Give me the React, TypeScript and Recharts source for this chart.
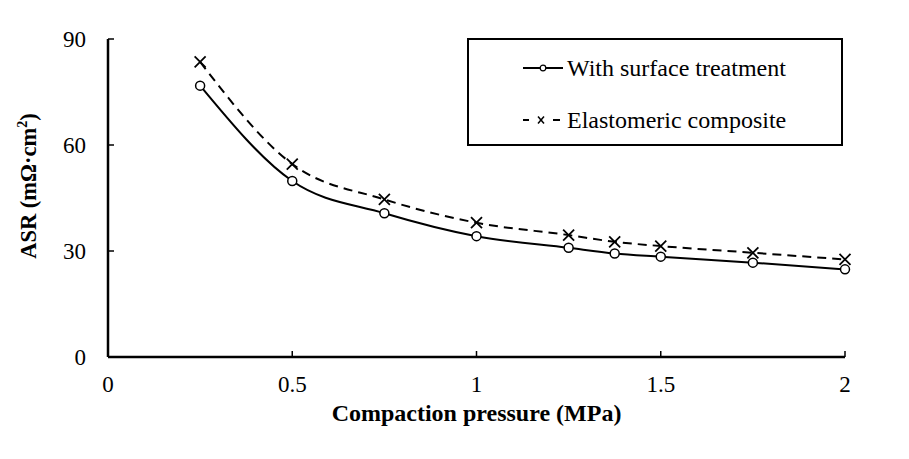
import { Label, Line, LineChart, XAxis, YAxis } from "recharts";

const pressure = [0.25, 0.5, 0.75, 1, 1.25, 1.375, 1.5, 1.75, 2];
const surfaceTreatment = [76.8, 49.8, 40.7, 34.2, 30.9, 29.3, 28.4, 26.7, 24.8];
const elastomeric = [83.5, 54.6, 44.6, 38.0, 34.5, 32.6, 31.4, 29.5, 27.6];
const xTicks = [0, 0.5, 1, 1.5, 2];
const yTicks = [0, 30, 60, 90];

const rows = pressure.map((p, i) => ({ p, surface: surfaceTreatment[i], elasto: elastomeric[i] }));

const FONT = "'Liberation Serif', 'Times New Roman', serif";
const TICK = { fontSize: 23, fill: "#000", fontFamily: FONT };

function CircleDot(props: any) {
  const { cx, cy } = props;
  if (cx == null || cy == null) return null;
  return <circle cx={cx} cy={cy} r={4.5} fill="#fff" stroke="#000" strokeWidth={1.5} />;
}

function CrossDot(props: any) {
  const { cx, cy } = props;
  if (cx == null || cy == null) return null;
  const s = 5.5;
  return (
    <g stroke="#000" strokeWidth={1.8}>
      <line x1={cx - s} y1={cy - s} x2={cx + s} y2={cy + s} />
      <line x1={cx - s} y1={cy + s} x2={cx + s} y2={cy - s} />
    </g>
  );
}

function LegendBox() {
  const item = (sample: React.ReactNode, text: string) => (
    <div style={{ display: "flex", alignItems: "center", height: 52 }}>
      <svg width={40} height={20} style={{ marginRight: 4 }}>
        {sample}
      </svg>
      <span style={{ fontFamily: FONT, fontSize: 24, color: "#000", whiteSpace: "nowrap" }}>{text}</span>
    </div>
  );
  return (
    <div
      style={{
        position: "absolute",
        left: 467,
        top: 38,
        border: "2px solid #000",
        width: 376,
        height: 108,
        boxSizing: "border-box",
        paddingLeft: 54,
        paddingTop: 2,
        background: "#fff",
      }}
    >
      {item(
        <g>
          <line x1={0} y1={10} x2={40} y2={10} stroke="#000" strokeWidth={2} />
          <circle cx={20} cy={10} r={2.8} fill="#fff" stroke="#000" strokeWidth={1.2} />
        </g>,
        "With surface treatment"
      )}
      {item(
        <g stroke="#000">
          <line x1={0} y1={10} x2={6} y2={10} strokeWidth={2} />
          <line x1={30} y1={10} x2={37} y2={10} strokeWidth={2} />
          <line x1={15} y1={6.5} x2={21} y2={13.5} strokeWidth={1.5} />
          <line x1={15} y1={13.5} x2={21} y2={6.5} strokeWidth={1.5} />
        </g>,
        "Elastomeric composite"
      )}
    </div>
  );
}

function YTitle() {
  const x = 36;
  const y = 186;
  return (
    <text
      x={x}
      y={y}
      transform={`rotate(-90, ${x}, ${y})`}
      textAnchor="middle"
      fontFamily={FONT}
      fontWeight="bold"
      fontSize={22.5}
      fill="#000"
    >
      ASR (mΩ·cm
      <tspan fontSize={14} dy={-9}>2</tspan>
      <tspan dy={9}>)</tspan>
    </text>
  );
}

export default function App() {
  return (
    <div style={{ position: "absolute", left: 0, top: 0, width: 909, height: 459, background: "#fff" }}>
      <LineChart width={909} height={459} data={rows} margin={{ top: 39, right: 64, bottom: 24, left: 0 }}>
        <XAxis
          dataKey="p"
          type="number"
          domain={[0, 2]}
          ticks={xTicks}
          tick={TICK}
          tickSize={-6}
          tickMargin={25}
          height={78}
          axisLine={{ stroke: "#000", strokeWidth: 2.5 }}
          tickLine={{ stroke: "#000", strokeWidth: 1.5 }}
        >
          <Label
            value="Compaction pressure (MPa)"
            position="insideBottom"
            offset={14}
            style={{ fontFamily: FONT, fontWeight: "bold", fontSize: 24, fill: "#000" }}
          />
        </XAxis>
        <YAxis
          type="number"
          domain={[0, 90]}
          ticks={yTicks}
          tick={TICK}
          tickSize={-6}
          tickMargin={28}
          width={108}
          axisLine={{ stroke: "#000", strokeWidth: 2.5 }}
          tickLine={{ stroke: "#000", strokeWidth: 1.5 }}
          label={{ content: <YTitle /> }}
        />
        <Line
          type="monotone"
          dataKey="surface"
          stroke="#000"
          strokeWidth={2}
          dot={<CircleDot />}
          isAnimationActive={false}
        />
        <Line
          type="monotone"
          dataKey="elasto"
          stroke="#000"
          strokeWidth={2}
          strokeDasharray="9 6"
          dot={<CrossDot />}
          isAnimationActive={false}
        />
      </LineChart>
      <LegendBox />
    </div>
  );
}
